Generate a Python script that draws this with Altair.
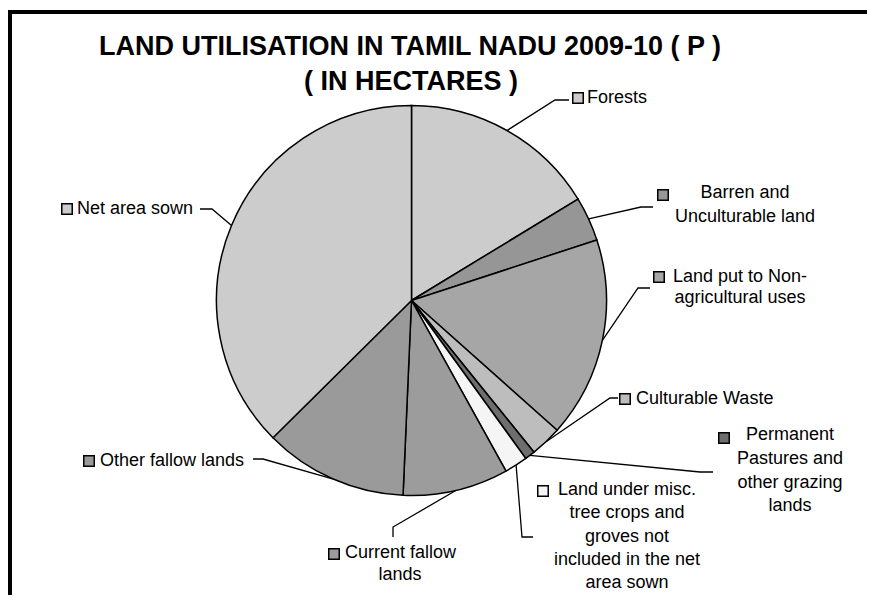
import math
import altair as alt
import pandas as pd

# ---- data (hectares) ----
categories = [
    "Forests",
    "Barren and Unculturable land",
    "Land put to Non-agricultural uses",
    "Culturable Waste",
    "Permanent Pastures and other grazing lands",
    "Land under misc. tree crops and groves not included in the net area sown",
    "Current fallow lands",
    "Other fallow lands",
    "Net area sown",
]
hectares = [2125000, 480000, 2165000, 340000, 110000, 250000, 1140000, 1550000, 4880000]
label_lines = [
    ["Forests"],
    ["Barren and", "Unculturable land"],
    ["Land put to Non-", "agricultural uses"],
    ["Culturable Waste"],
    ["Permanent", "Pastures and", "other grazing", "lands"],
    ["Land under misc.", "tree crops and", "groves not", "included in the net", "area sown"],
    ["Current fallow", "lands"],
    ["Other fallow lands"],
    ["Net area sown"],
]
title_lines = ["LAND UTILISATION IN TAMIL NADU 2009-10 ( P )", "( IN HECTARES )"]

# ---- styles / layout ----
colors = ["#CCCCCC", "#969696", "#A6A6A6", "#BDBDBD", "#6E6E6E",
          "#F5F5F5", "#9C9C9C", "#9A9A9A", "#CCCCCC"]
W, H = 859, 587
OFF = 8
CX, CY, R = 411.5 - OFF, 300.5 - OFF, 195
FONT = "Liberation Sans"

# label layout in page pixels: swatch centre, text lines (x, y, align), leader elbow points
layout = [
    dict(sw=(578, 98), lines=[(587, 98, "left")], lead=[(555, 100), (569, 100)]),
    dict(sw=(663, 195), lines=[(745, 193, "center"), (745, 217, "center")], lead=[(641, 207), (653, 207)]),
    dict(sw=(659, 277), lines=[(740, 277, "center"), (740, 298, "center")], lead=[(638, 288), (650, 288)]),
    dict(sw=(625, 399), lines=[(636, 399, "left")], lead=[(610, 398), (618, 398)]),
    dict(sw=(724, 438), lines=[(790, 435, "center"), (790, 459, "center"), (790, 483, "center"), (790, 506, "center")],
         lead=[(700, 472), (713, 472)]),
    dict(sw=(543, 491), lines=[(627, 490, "center"), (627, 513, "center"), (627, 537, "center"),
                               (627, 560, "center"), (627, 583, "center")], lead=[(522, 537), (533, 537)]),
    dict(sw=(334, 554), lines=[(345, 553, "left"), (400, 575, "center")], lead=[(393, 527), (393, 537)]),
    dict(sw=(89, 461), lines=[(100, 461, "left")], lead=[(263, 459), (253, 459)]),
    dict(sw=(67, 209), lines=[(77, 209, "left")], lead=[(212, 209), (200, 209)]),
]

total = sum(hectares)
pie_df = pd.DataFrame({"cat": categories, "val": hectares, "idx": list(range(len(categories)))})

# leader start = slice edge at mid-angle (computed from the data)
lead_rows, sw_rows, txt_rows = [], [], []
cum = 0
for i, (c, v) in enumerate(zip(categories, hectares)):
    mid = (cum + v / 2) / total * 2 * math.pi
    cum += v
    sx = CX + R * math.sin(mid)
    sy = CY - R * math.cos(mid)
    pts = [(sx, sy)] + [(px - OFF, py - OFF) for px, py in layout[i]["lead"]]
    for k, (px, py) in enumerate(pts):
        lead_rows.append({"id": i, "k": k, "x": px, "y": py})
    sx_, sy_ = layout[i]["sw"]
    sw_rows.append({"cat": c, "x": sx_ - OFF, "y": sy_ - OFF})
    for (tx, ty, al), t in zip(layout[i]["lines"], label_lines[i]):
        txt_rows.append({"t": t, "x": tx - OFF, "y": ty - OFF, "al": al})

lead_df = pd.DataFrame(lead_rows)
sw_df = pd.DataFrame(sw_rows)
txt_df = pd.DataFrame(txt_rows)
title_df = pd.DataFrame({"t": title_lines, "x": [410 - OFF, 411 - OFF], "y": [47 - OFF, 82 - OFF]})

color_scale = alt.Scale(domain=categories, range=colors)

pie = alt.Chart(pie_df).mark_arc(outerRadius=R, stroke="black", strokeWidth=1.5).encode(
    theta=alt.Theta("val:Q", stack=True),
    color=alt.Color("cat:N", scale=color_scale, legend=None),
    order=alt.Order("idx:Q"),
    x=alt.value(CX),
    y=alt.value(CY),
)

leaders = alt.Chart(lead_df).mark_line(color="black", strokeWidth=1.3).encode(
    x=alt.X("x:Q", scale=None),
    y=alt.Y("y:Q", scale=None),
    detail="id:N",
    order="k:Q",
)

swatches = alt.Chart(sw_df).mark_square(size=110, stroke="black", strokeWidth=1.5, opacity=1).encode(
    x=alt.X("x:Q", scale=None),
    y=alt.Y("y:Q", scale=None),
    color=alt.Color("cat:N", scale=color_scale, legend=None),
)

txt_left = alt.Chart(txt_df[txt_df.al == "left"]).mark_text(
    align="left", baseline="middle", font=FONT, fontSize=18, color="black"
).encode(x=alt.X("x:Q", scale=None), y=alt.Y("y:Q", scale=None), text="t:N")

txt_center = alt.Chart(txt_df[txt_df.al == "center"]).mark_text(
    align="center", baseline="middle", font=FONT, fontSize=18, color="black"
).encode(x=alt.X("x:Q", scale=None), y=alt.Y("y:Q", scale=None), text="t:N")

title = alt.Chart(title_df).mark_text(
    align="center", baseline="middle", font=FONT, fontSize=27, fontWeight="bold", color="black"
).encode(x=alt.X("x:Q", scale=None), y=alt.Y("y:Q", scale=None), text="t:N")

frame_top = alt.Chart(pd.DataFrame({"a": [0]})).mark_rule(color="black", strokeWidth=4).encode(
    x=alt.value(0), x2=alt.value(W), y=alt.value(4)
)
frame_left = alt.Chart(pd.DataFrame({"a": [0]})).mark_rule(color="black", strokeWidth=4).encode(
    x=alt.value(2), y=alt.value(2), y2=alt.value(H)
)

chart = alt.layer(
    frame_top, frame_left, leaders, pie, swatches, txt_left, txt_center, title
).properties(
    width=W, height=H, autosize=alt.AutoSizeParams(type="none"), padding=0
).configure_view(stroke=None)

chart.save("out.html", embed_options={"renderer": "svg", "actions": False})
